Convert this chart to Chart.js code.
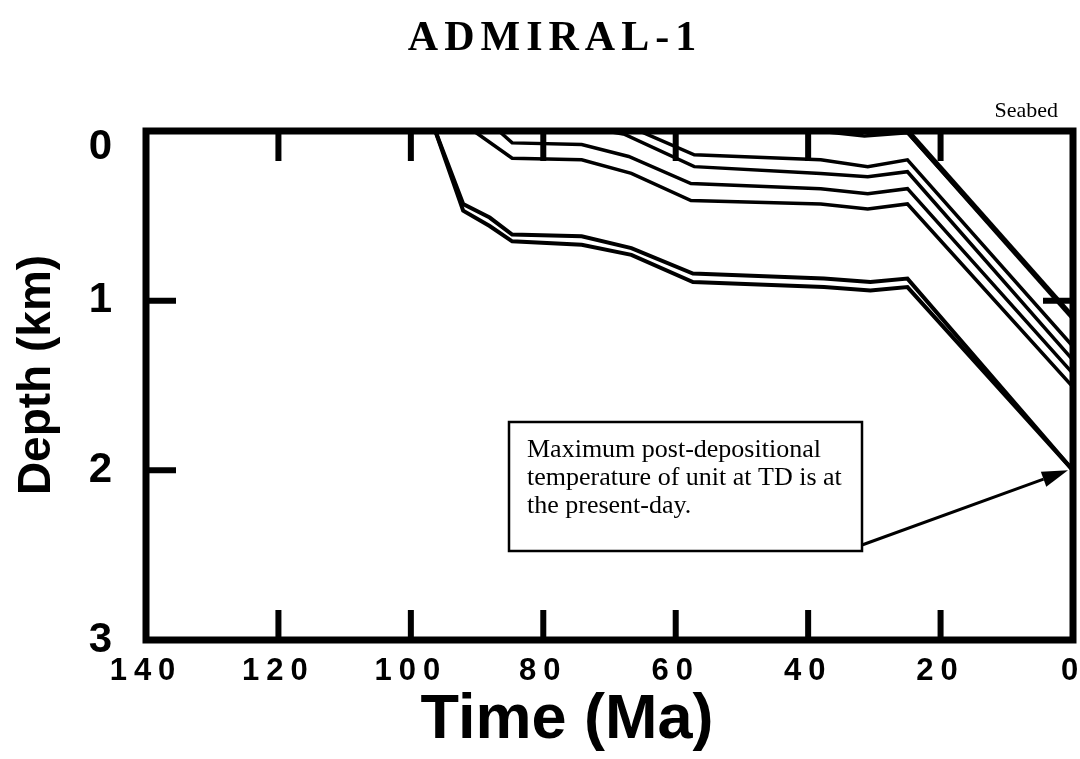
<!DOCTYPE html>
<html>
<head>
<meta charset="utf-8">
<title>ADMIRAL-1</title>
<script src="https://cdn.jsdelivr.net/npm/chart.js@4.4.0/dist/chart.umd.min.js"></script>
<style>
  html, body { margin: 0; padding: 0; background: #fff; }
</style>
</head>
<body>
<canvas id="burialChart" width="1080" height="759"></canvas>
<script>
// Burial history for Admiral-1: age in Ma, depth below seabed in km
const xTickValues = [140, 120, 100, 80, 60, 40, 20, 0];
const yTickValues = [0, 1, 2, 3];

// unit at TD (top and base of the thin unit)
const tdTopAge = [96.3, 92.1, 88.1, 84.7, 74.2, 66.7, 57.4, 37.6, 30.6, 25.0, 0];
const tdTopDepth = [0, 0.43, 0.51, 0.61, 0.62, 0.69, 0.84, 0.87, 0.89, 0.87, 2.0];
const tdBaseAge = [96.3, 92.1, 88.1, 84.7, 74.2, 66.7, 57.4, 37.6, 30.6, 25.0, 0];
const tdBaseDepth = [0, 0.47, 0.56, 0.65, 0.67, 0.73, 0.89, 0.92, 0.94, 0.92, 2.0];

// younger horizons
const horizonAAge = [90.5, 84.7, 74.2, 66.7, 57.7, 38.1, 31.0, 25.0, 0];
const horizonADepth = [0, 0.16, 0.17, 0.25, 0.41, 0.43, 0.46, 0.43, 1.51];
const horizonBAge = [86.7, 84.7, 74.2, 67.1, 57.7, 38.1, 31.0, 25.0, 0];
const horizonBDepth = [0, 0.07, 0.08, 0.15, 0.31, 0.34, 0.37, 0.34, 1.43];
const horizonCAge = [70.5, 67.7, 57.2, 38.1, 31.0, 25.0, 0];
const horizonCDepth = [0, 0.02, 0.21, 0.25, 0.27, 0.24, 1.35];
const horizonDAge = [65.5, 63.7, 57.2, 38.1, 31.0, 25.0, 0];
const horizonDDepth = [0, 0.03, 0.14, 0.17, 0.21, 0.17, 1.27];
const horizonEAge = [38.5, 31.5, 25.0, 0];
const horizonEDepth = [0, 0.03, 0.01, 1.1];
const horizonFAge = [25.0, 0];
const horizonFDepth = [0, 1.1];

// arrow target: unit at TD, present day
const tdAge = 0;
const tdDepth = 2.0;

function toPoints(ages, depths) {
  return ages.map((a, i) => ({ x: a, y: depths[i] }));
}

function horizon(label, ages, depths, width) {
  return {
    label: label,
    data: toPoints(ages, depths),
    borderColor: "#000",
    borderWidth: width || 3.5,
    pointRadius: 0,
    tension: 0,
    fill: false,
  };
}

const datasets = [
  horizon("TD top", tdTopAge, tdTopDepth, 4),
  horizon("TD base", tdBaseAge, tdBaseDepth, 4),
  horizon("A", horizonAAge, horizonADepth),
  horizon("B", horizonBAge, horizonBDepth),
  horizon("C", horizonCAge, horizonCDepth),
  horizon("D", horizonDAge, horizonDDepth),
  horizon("E", horizonEAge, horizonEDepth),
  horizon("F", horizonFAge, horizonFDepth, 5.5),
];

// spread out the tick label digits, then reset before the lines
const spacedTicks = {
  id: "spacedTicks",
  beforeDraw(chart) {
    chart.ctx.letterSpacing = "7px";
  },
  beforeDatasetsDraw(chart) {
    chart.ctx.letterSpacing = "0px";
  },
};

// frame, inward tick marks, titles, note box and arrow
const decorations = {
  id: "decorations",
  afterDraw(chart) {
    const ctx = chart.ctx;
    const a = chart.chartArea;
    const x = chart.scales.x;
    const y = chart.scales.y;

    ctx.save();
    ctx.letterSpacing = "0px";
    ctx.strokeStyle = "#000";
    ctx.fillStyle = "#000";

    // tick marks
    ctx.lineWidth = 6;
    ctx.beginPath();
    [120, 100, 80, 60, 40, 20].forEach((v) => {
      const px = x.getPixelForValue(v);
      ctx.moveTo(px, a.top);
      ctx.lineTo(px, a.top + 30);
      ctx.moveTo(px, a.bottom);
      ctx.lineTo(px, a.bottom - 30);
    });
    [1, 2].forEach((v) => {
      const py = y.getPixelForValue(v);
      ctx.moveTo(a.left, py);
      ctx.lineTo(a.left + 30, py);
    });
    [1].forEach((v) => {
      const py = y.getPixelForValue(v);
      ctx.moveTo(a.right, py);
      ctx.lineTo(a.right - 30, py);
    });
    ctx.stroke();

    // frame
    ctx.lineWidth = 7;
    ctx.strokeRect(a.left, a.top, a.right - a.left, a.bottom - a.top);

    // title
    ctx.font = "bold 42px 'Liberation Serif'";
    ctx.letterSpacing = "6px";
    ctx.textAlign = "center";
    ctx.textBaseline = "alphabetic";
    ctx.fillText("ADMIRAL-1", 555, 50);
    ctx.letterSpacing = "0px";

    // axis titles
    ctx.font = "bold 63px 'Liberation Sans'";
    ctx.fillText("Time (Ma)", 567, 738);
    ctx.save();
    ctx.translate(50, 375);
    ctx.rotate(-Math.PI / 2);
    ctx.font = "bold 46px 'Liberation Sans'";
    ctx.fillText("Depth (km)", 0, 0);
    ctx.restore();

    // seabed label
    ctx.font = "22px 'Liberation Serif'";
    ctx.textAlign = "right";
    ctx.fillText("Seabed", 1058, 117);

    // note box
    const bx = 509, by = 422, bw = 353, bh = 129;
    ctx.fillStyle = "#fff";
    ctx.fillRect(bx, by, bw, bh);
    ctx.lineWidth = 2.5;
    ctx.strokeRect(bx, by, bw, bh);
    ctx.fillStyle = "#000";
    ctx.font = "26px 'Liberation Serif'";
    ctx.textAlign = "left";
    ctx.fillText("Maximum post-depositional", 527, 457);
    ctx.fillText("temperature of unit at TD is at", 527, 485);
    ctx.fillText("the present-day.", 527, 513);

    // arrow to the unit at TD
    const sx = bx + bw, sy = by + bh - 6;
    const tx = x.getPixelForValue(tdAge) - 5;
    const ty = y.getPixelForValue(tdDepth);
    const ang = Math.atan2(ty - sy, tx - sx);
    const headLen = 26, headHalf = 8;
    const hx = tx - headLen * Math.cos(ang);
    const hy = ty - headLen * Math.sin(ang);
    ctx.lineWidth = 3;
    ctx.beginPath();
    ctx.moveTo(sx, sy);
    ctx.lineTo(hx, hy);
    ctx.stroke();
    ctx.beginPath();
    ctx.moveTo(tx, ty);
    ctx.lineTo(hx + headHalf * Math.sin(ang), hy - headHalf * Math.cos(ang));
    ctx.lineTo(hx - headHalf * Math.sin(ang), hy + headHalf * Math.cos(ang));
    ctx.closePath();
    ctx.fill();

    ctx.restore();
  },
};

const chart = new Chart(document.getElementById("burialChart"), {
  type: "line",
  data: { datasets: datasets },
  options: {
    responsive: false,
    animation: false,
    devicePixelRatio: 1,
    layout: { padding: { top: 131, right: 7, left: 0, bottom: 0 } },
    plugins: {
      legend: { display: false },
      title: { display: false },
      tooltip: { enabled: false },
    },
    scales: {
      x: {
        type: "linear",
        reverse: true,
        min: 0,
        max: 140,
        afterBuildTicks: (scale) => {
          scale.ticks = xTickValues.map((v) => ({ value: v }));
        },
        afterFit: (scale) => {
          scale.height = 119;
          // labels may overhang the frame; keep the plot edges fixed
          scale.paddingLeft = 0;
          scale.paddingRight = 0;
        },
        grid: { display: false, drawTicks: false },
        border: { display: false },
        ticks: {
          color: "#000",
          padding: 13,
          maxRotation: 0,
          autoSkip: false,
          font: { family: "Liberation Sans", weight: "bold", size: 31 },
        },
      },
      y: {
        type: "linear",
        reverse: true,
        min: 0,
        max: 3,
        afterBuildTicks: (scale) => {
          scale.ticks = yTickValues.map((v) => ({ value: v }));
        },
        afterFit: (scale) => {
          scale.width = 146;
          scale.paddingTop = 0;
          scale.paddingBottom = 0;
        },
        grid: { display: false, drawTicks: false },
        border: { display: false },
        ticks: {
          color: "#000",
          padding: 27,
          // the 0 label sits just under the seabed line
          callback: (v) => (v === 0 ? ["", "0"] : String(v)),
          font: { family: "Liberation Sans", weight: "bold", size: 42, lineHeight: 0.8 },
        },
      },
    },
  },
  plugins: [spacedTicks, decorations],
});
</script>
</body>
</html>
